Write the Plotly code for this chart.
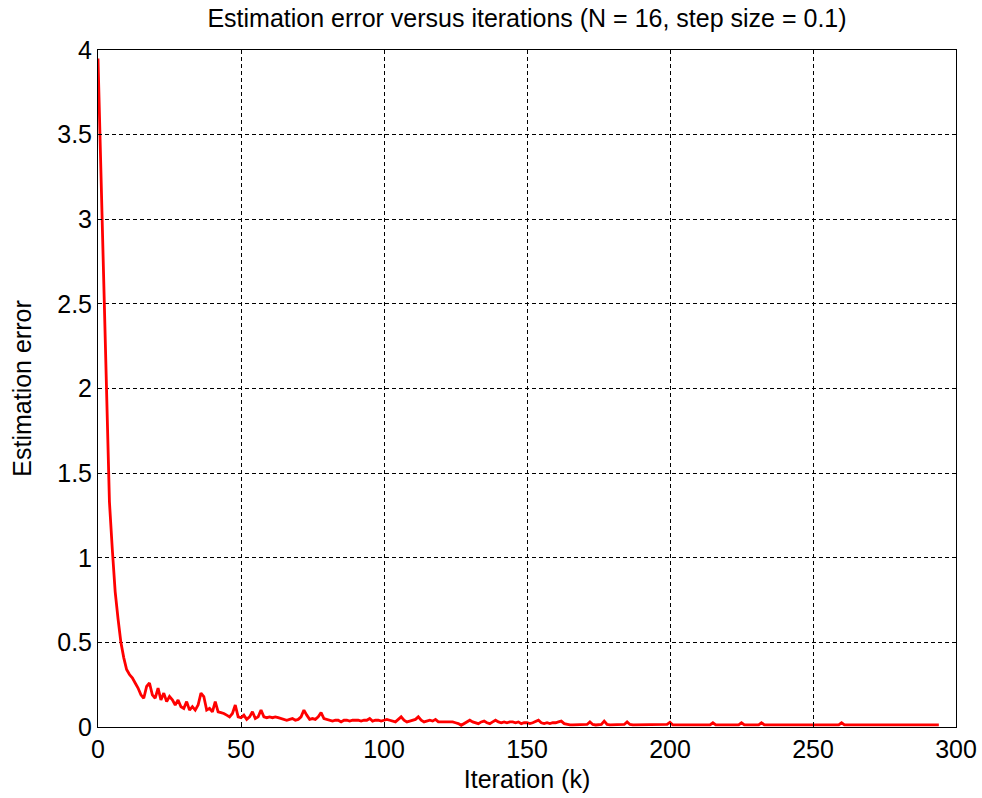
import plotly.graph_objects as go

# Iteration index (dense up to 200, then the flat tail sampled where it changes)
iterations = list(range(0, 201)) + [201, 214, 215, 216, 224, 225, 226, 231, 232, 233, 259, 260, 261, 294]

# Estimation error
error = [
    # k 0-10
    3.95, 3.30, 2.60, 1.90, 1.33, 1.05, 0.80, 0.64, 0.50, 0.41, 0.34,
    # k 11-20
    0.31, 0.29, 0.26, 0.23, 0.19, 0.17, 0.24, 0.26, 0.19, 0.17,
    # k 21-30
    0.23, 0.16, 0.20, 0.15, 0.18, 0.16, 0.13, 0.16, 0.12, 0.11,
    # k 31-40
    0.15, 0.10, 0.12, 0.10, 0.13, 0.20, 0.18, 0.10, 0.11, 0.09,
    # k 41-50
    0.15, 0.09, 0.085, 0.08, 0.07, 0.06, 0.08, 0.13, 0.06, 0.055,
    # k 51-60
    0.07, 0.045, 0.06, 0.09, 0.05, 0.06, 0.10, 0.06, 0.055, 0.06,
    # k 61-70
    0.055, 0.06, 0.055, 0.05, 0.045, 0.04, 0.045, 0.05, 0.04, 0.045,
    # k 71-80
    0.06, 0.10, 0.07, 0.045, 0.05, 0.045, 0.06, 0.085, 0.05, 0.045,
    # k 81-90
    0.04, 0.035, 0.04, 0.04, 0.03, 0.04, 0.04, 0.035, 0.04, 0.04,
    # k 91-100
    0.04, 0.035, 0.04, 0.04, 0.05, 0.035, 0.04, 0.04, 0.035, 0.04,
    # k 101-110
    0.045, 0.04, 0.035, 0.03, 0.045, 0.06, 0.04, 0.03, 0.035, 0.04,
    # k 111-120
    0.045, 0.06, 0.04, 0.03, 0.035, 0.04, 0.035, 0.045, 0.03, 0.03,
    # k 121-130
    0.03, 0.03, 0.03, 0.03, 0.025, 0.02, 0.01, 0.02, 0.03, 0.04,
    # k 131-140
    0.03, 0.025, 0.02, 0.03, 0.035, 0.025, 0.02, 0.03, 0.04, 0.03,
    # k 141-150
    0.025, 0.03, 0.025, 0.03, 0.03, 0.025, 0.03, 0.02, 0.025, 0.025,
    # k 151-160
    0.02, 0.025, 0.035, 0.04, 0.025, 0.02, 0.025, 0.02, 0.025, 0.025,
    # k 161-170
    0.03, 0.035, 0.02, 0.015, 0.012, 0.012, 0.012, 0.012, 0.012, 0.012,
    # k 171-180
    0.015, 0.03, 0.015, 0.012, 0.012, 0.015, 0.035, 0.015, 0.012, 0.012,
    # k 181-190
    0.012, 0.012, 0.012, 0.015, 0.03, 0.015, 0.012, 0.012, 0.012, 0.012,
    # k 191-200
    0.012, 0.012, 0.012, 0.012, 0.012, 0.012, 0.012, 0.012, 0.015, 0.028,
    # tail: 201, 214, 215, 216, 224, 225, 226, 231, 232, 233, 259, 260, 261, 294
    0.012, 0.012, 0.025, 0.012, 0.012, 0.025, 0.012, 0.012, 0.025, 0.012, 0.012, 0.025, 0.012, 0.012,
]

x_ticks = [0, 50, 100, 150, 200, 250, 300]
y_ticks = [0, 0.5, 1, 1.5, 2, 2.5, 3, 3.5, 4]
y_tick_text = ["0", "0.5", "1", "1.5", "2", "2.5", "3", "3.5", "4"]

FONT = "Arial, Liberation Sans, sans-serif"
FS = 25

fig = go.Figure()
fig.add_trace(go.Scatter(
    x=iterations, y=error, mode="lines",
    line=dict(color="#ff0000", width=2.8),
    showlegend=False,
))

axis_common = dict(
    showline=True, linecolor="#000000", linewidth=1, mirror="ticks",
    ticks="inside", ticklen=4, tickcolor="#000000",
    showgrid=True, gridcolor="#000000", gridwidth=1, griddash="4px,3px",
    zeroline=False, automargin=False,
    tickfont=dict(family=FONT, size=FS, color="#000000"),
)

fig.update_layout(
    width=982, height=798,
    margin=dict(l=98, r=26, t=50, b=71),
    paper_bgcolor="#ffffff", plot_bgcolor="#ffffff",
    title=dict(
        text="Estimation error versus iterations (N = 16, step size = 0.1)",
        x=(98 + 956) / 2 / 982, xanchor="center", y=1 - 18 / 798, yanchor="middle",
        font=dict(family=FONT, size=FS, color="#000000"),
    ),
    xaxis=dict(
        range=[0, 300], tickvals=x_ticks,
        title=dict(text="Iteration (k)", font=dict(family=FONT, size=FS, color="#000000"), standoff=8),
        **axis_common,
    ),
    yaxis=dict(
        range=[0, 4], tickvals=y_ticks, ticktext=y_tick_text,
        title=dict(text="Estimation error", font=dict(family=FONT, size=FS, color="#000000"), standoff=18),
        **axis_common,
    ),
)

fig.write_html("out.html")
